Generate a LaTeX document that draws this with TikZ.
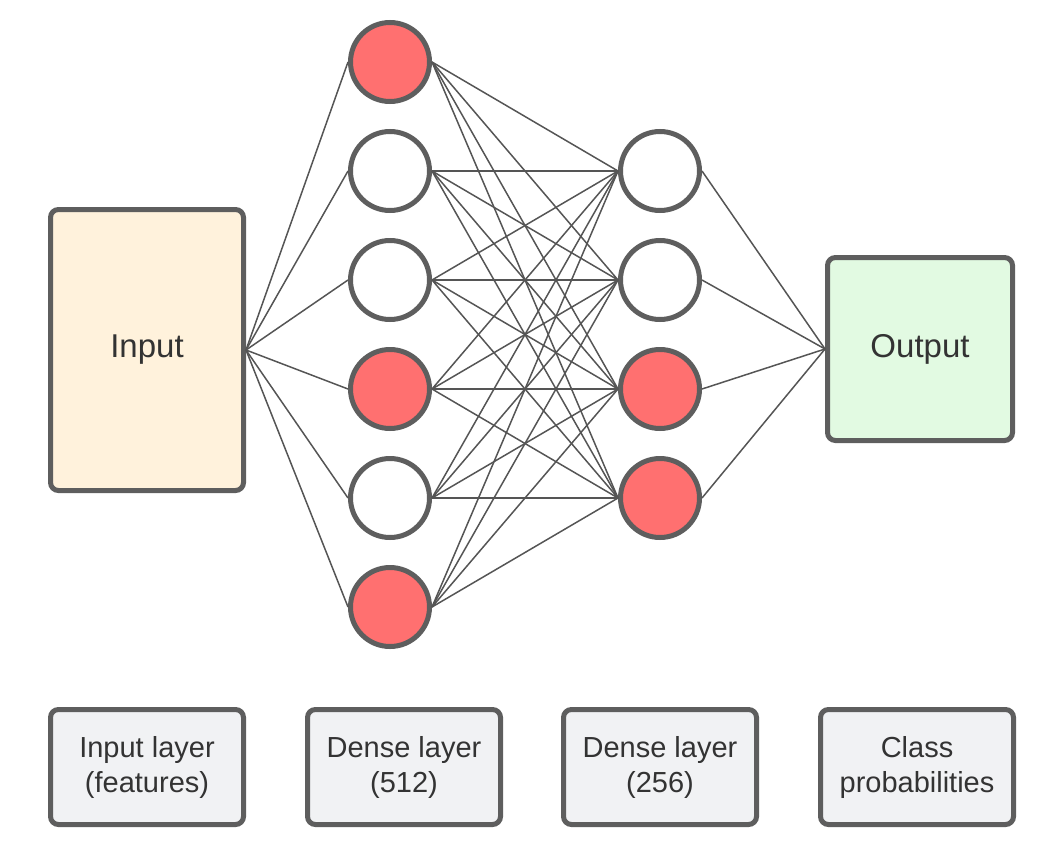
\documentclass[tikz,border=0pt]{standalone}
\usepackage{fontspec}
\setmainfont{Liberation Sans}
\definecolor{rimgray}{HTML}{5E5E5E}
\definecolor{wiregray}{HTML}{555555}
\definecolor{inkgray}{HTML}{333333}
\definecolor{firered}{HTML}{FF7070}
\definecolor{inputtan}{HTML}{FFF2DC}
\definecolor{outputgreen}{HTML}{E2FAE2}
\definecolor{labelgray}{HTML}{F1F2F4}

\begin{document}
\begin{tikzpicture}[x=1pt,y=-1pt,
        neuron/.style={circle,draw=rimgray,line width=5pt,minimum size=79pt,inner sep=0pt,fill=white},
        active/.style={neuron,fill=firered},
        block/.style={rectangle,draw=rimgray,line width=5pt,rounded corners=8pt,text=inkgray,font=\fontsize{33}{40}\selectfont},
        caption/.style={block,fill=labelgray,minimum width=193pt,minimum height=115pt,align=center,font=\fontsize{29}{35}\selectfont},
        wire/.style={draw=wiregray,line width=1.5pt}]
        \useasboundingbox (0,0) rectangle (1056,859);

        \node[block,fill=inputtan,minimum width=193pt,minimum height=281pt] at (147,350)(in){Input};
        \node[block,fill=outputgreen,minimum width=185pt,minimum height=183pt] at (920,349)(out){Output};

        \node[active] at (390,62)(a1){};
        \node[neuron] at (390,171)(a2){};
        \node[neuron] at (390,280)(a3){};
        \node[active] at (390,389)(a4){};
        \node[neuron] at (390,498)(a5){};
        \node[active] at (390,607)(a6){};

        \node[neuron] at (660,171)(b1){};
        \node[neuron] at (660,280)(b2){};
        \node[active] at (660,389)(b3){};
        \node[active] at (660,498)(b4){};

        \foreach \i in {1,...,6}{
            \path[wire] (in.east) edge (a\i.west);
            \foreach \j in {1,...,4}
                \path[wire] (a\i.east) edge (b\j.west);
        }
        \foreach \j in {1,...,4}
            \path[wire] (b\j.east) edge (out.west);

        \node[caption] at (147,767)(capin){Input layer\\(features)};
        \node[caption] at (404,767)(capa){Dense layer\\(512)};
        \node[caption] at (660,767)(capb){Dense layer\\(256)};
        \node[caption] at (917,767)(capout){Class\\probabilities};
    \end{tikzpicture}
\end{document}
